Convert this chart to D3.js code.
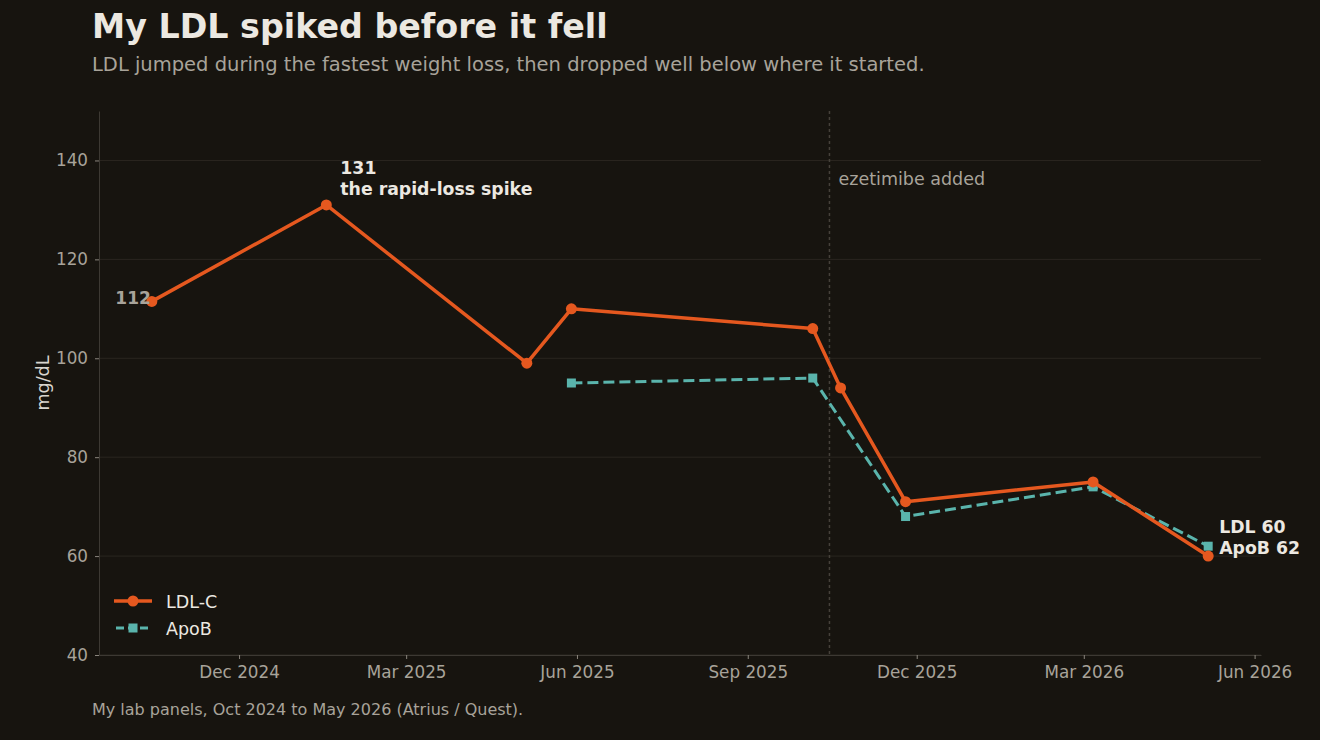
<!DOCTYPE html>
<html>
<head>
<meta charset="utf-8">
<script src="https://cdn.jsdelivr.net/npm/d3@7"></script>
<style>
  body { margin: 0; background: #17140f; }
  svg { display: block; font-family: "DejaVu Sans", sans-serif; }
</style>
</head>
<body>
<div id="chart"></div>
<script>
// lab values
const ldlDates = ["2024-10-15", "2025-01-17", "2025-05-05", "2025-05-29", "2025-10-06", "2025-10-21", "2025-11-25", "2026-03-06", "2026-05-07"];
const ldlValues = [111.5, 131, 99, 110, 106, 94, 71, 75, 60];
const apobDates = ["2025-05-29", "2025-10-06", "2025-11-25", "2026-03-06", "2026-05-07"];
const apobValues = [95, 96, 68, 74, 62];
const yTicks = [40, 60, 80, 100, 120, 140];
const xTickDates = ["2024-12-01", "2025-03-01", "2025-06-01", "2025-09-01", "2025-12-01", "2026-03-01", "2026-06-01"];
const ezetimibeDate = "2025-10-15";

const W = 1320, H = 740;
const margin = {left: 99, right: 59, top: 111, bottom: 85};
const parse = d3.timeParse("%Y-%m-%d");

const ldl = ldlDates.map((d, i) => ({date: parse(d), value: ldlValues[i]}));
const apob = apobDates.map((d, i) => ({date: parse(d), value: apobValues[i]}));

const svg = d3.select("#chart").append("svg")
  .attr("width", W).attr("height", H);

svg.append("rect").attr("width", W).attr("height", H).attr("fill", "#17140f");

// x domain padded 5% on each side like the original
const ext = d3.extent(ldl, d => d.date);
const span = ext[1] - ext[0];
const x = d3.scaleTime()
  .domain([new Date(+ext[0] - span * 0.05), new Date(+ext[1] + span * 0.05)])
  .range([margin.left, W - margin.right]);
const y = d3.scaleLinear().domain([40, 150]).range([H - margin.bottom, margin.top]);

// grid
svg.append("g").selectAll("line").data(yTicks).join("line")
  .attr("x1", margin.left).attr("x2", W - margin.right)
  .attr("y1", d => y(d)).attr("y2", d => y(d))
  .attr("stroke", "#2a2620").attr("stroke-width", 1);

// axes
const xAxis = svg.append("g")
  .attr("transform", `translate(0,${H - margin.bottom})`)
  .call(d3.axisBottom(x).tickValues(xTickDates.map(parse)).tickFormat(d3.timeFormat("%b %Y")).tickSize(4).tickPadding(7).tickSizeOuter(0));
const yAxis = svg.append("g")
  .attr("transform", `translate(${margin.left},0)`)
  .call(d3.axisLeft(y).tickValues(yTicks).tickSize(4).tickPadding(7).tickSizeOuter(0));
[xAxis, yAxis].forEach(a => {
  a.select(".domain").attr("stroke", "#3d3933");
  a.selectAll(".tick line").attr("stroke", "#8a857d");
  a.selectAll(".tick text").attr("fill", "#a8a39a").style("font-size", "16.8px").style("font-family", "DejaVu Sans");
});

svg.append("text")
  .attr("transform", `translate(49,${y(95)}) rotate(-90)`)
  .attr("text-anchor", "middle")
  .attr("fill", "#d9d5ce").style("font-size", "17.5px")
  .text("mg/dL");

// ezetimibe marker
svg.append("line")
  .attr("x1", x(parse(ezetimibeDate))).attr("x2", x(parse(ezetimibeDate)))
  .attr("y1", margin.top).attr("y2", H - margin.bottom)
  .attr("stroke", "#45413a").attr("stroke-width", 1.5).attr("stroke-dasharray", "3,3");
svg.append("text")
  .attr("x", x(parse(ezetimibeDate)) + 9).attr("y", 185)
  .attr("fill", "#a8a39a").style("font-size", "17.5px")
  .text("ezetimibe added");

const line = d3.line().x(d => x(d.date)).y(d => y(d.value));
const orange = "#e5581f", teal = "#5ab4ac";

svg.append("path").datum(apob).attr("d", line)
  .attr("fill", "none").attr("stroke", teal).attr("stroke-width", 3)
  .attr("stroke-dasharray", "11,5");
svg.append("g").selectAll("rect").data(apob).join("rect")
  .attr("x", d => x(d.date) - 4.5).attr("y", d => y(d.value) - 4.5)
  .attr("width", 9).attr("height", 9).attr("fill", teal);

svg.append("path").datum(ldl).attr("d", line)
  .attr("fill", "none").attr("stroke", orange).attr("stroke-width", 3.5)
  .attr("stroke-linejoin", "round");
svg.append("g").selectAll("circle").data(ldl).join("circle")
  .attr("cx", d => x(d.date)).attr("cy", d => y(d.value)).attr("r", 5.5)
  .attr("fill", orange);

// annotations
const first = ldl[0], peak = ldl[1], last = ldl[ldl.length - 1], lastB = apob[apob.length - 1];
svg.append("text")
  .attr("x", x(first.date) - 1).attr("y", y(first.value) + 3)
  .attr("text-anchor", "end").attr("fill", "#a8a39a")
  .style("font-size", "17px").style("font-weight", "bold")
  .text(Math.round(first.value));
const pk = svg.append("text")
  .attr("x", x(peak.date) + 14).attr("y", y(peak.value) - 31)
  .attr("fill", "#ece8e1").style("font-size", "17.3px").style("font-weight", "bold");
pk.append("tspan").attr("x", x(peak.date) + 14).text(peak.value);
pk.append("tspan").attr("x", x(peak.date) + 14).attr("dy", 21).text("the rapid-loss spike");
const lt = svg.append("text")
  .attr("x", x(last.date) + 11).attr("y", y(last.value) - 23)
  .attr("fill", "#ece8e1").style("font-size", "17.3px").style("font-weight", "bold");
lt.append("tspan").attr("x", x(last.date) + 11).text("LDL " + last.value);
lt.append("tspan").attr("x", x(last.date) + 11).attr("dy", 21).text("ApoB " + lastB.value);

// legend
const legend = svg.append("g").attr("transform", "translate(114,601)");
legend.append("line").attr("x1", 0).attr("x2", 38).attr("stroke", orange).attr("stroke-width", 3.5);
legend.append("circle").attr("cx", 19).attr("r", 5.5).attr("fill", orange);
legend.append("text").attr("x", 52).attr("y", 7).attr("fill", "#ece8e1").style("font-size", "17.5px").text("LDL-C");
legend.append("line").attr("x1", 2).attr("x2", 36).attr("y1", 27).attr("y2", 27).attr("stroke", teal).attr("stroke-width", 3).attr("stroke-dasharray", "8,4");
legend.append("rect").attr("x", 14.5).attr("y", 22.5).attr("width", 9).attr("height", 9).attr("fill", teal);
legend.append("text").attr("x", 52).attr("y", 34).attr("fill", "#ece8e1").style("font-size", "17.5px").text("ApoB");

// titles
svg.append("text").attr("x", 92).attr("y", 38)
  .attr("fill", "#ece8e1").style("font-size", "33.3px").style("font-weight", "bold")
  .text("My LDL spiked before it fell");
svg.append("text").attr("x", 92).attr("y", 71)
  .attr("fill", "#a8a39a").style("font-size", "19.5px")
  .text("LDL jumped during the fastest weight loss, then dropped well below where it started.");
svg.append("text").attr("x", 92).attr("y", 715)
  .attr("fill", "#a8a39a").style("font-size", "16px")
  .text("My lab panels, Oct 2024 to May 2026 (Atrius / Quest).");
</script>
</body>
</html>
